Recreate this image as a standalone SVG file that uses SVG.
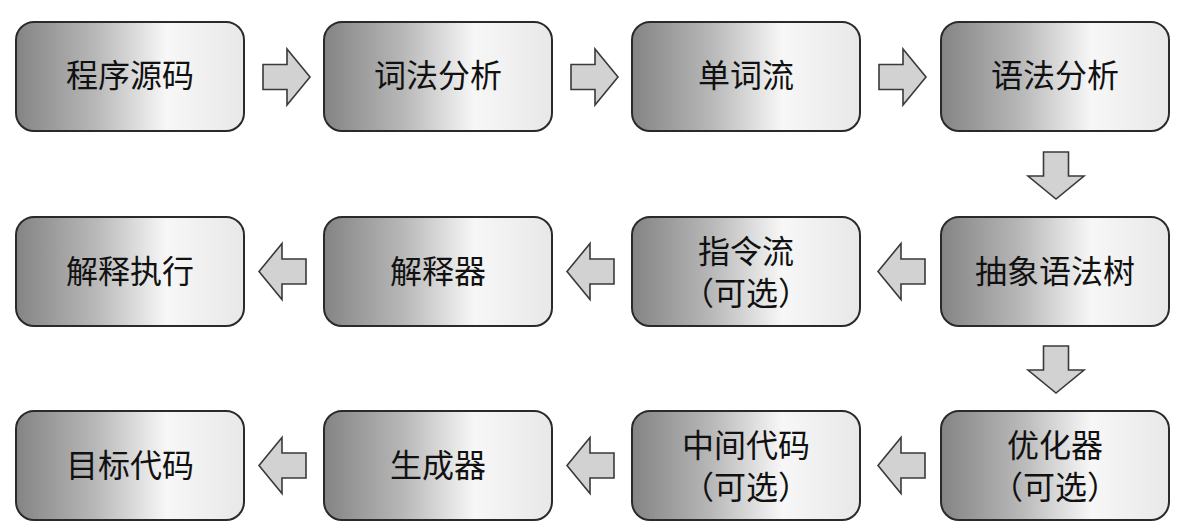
<svg xmlns="http://www.w3.org/2000/svg" width="1186" height="531" viewBox="0 0 1186 531">
<defs>
<linearGradient id="g" x1="0" y1="0" x2="1" y2="0">
<stop offset="0" stop-color="#848484"/>
<stop offset="0.35" stop-color="#b8b8b8"/>
<stop offset="0.66" stop-color="#f7f7f7"/>
<stop offset="1" stop-color="#e8e8e8"/>
</linearGradient>
<path id="ar" d="M0,-12.5 H24 V-28 L47,0 L24,28 V12.5 H0 Z"/>
</defs>
<style>
.n rect{fill:url(#g);stroke:#2a2a2a;stroke-width:2}
.n text{font-family:"Noto Sans CJK SC","Noto Sans",sans-serif;font-size:32px;fill:#111;text-anchor:middle}
.c use{fill:#d2d2d2;stroke:#3a3a3a;stroke-width:1.6}
</style>
<rect width="1186" height="531" fill="#fff"/>
<g id="n1" class="n"><rect x="16" y="22" width="228" height="109" rx="18"/><text x="130" y="87">程序源码</text></g>
<g id="n2" class="n"><rect x="324" y="22" width="228" height="109" rx="18"/><text x="438" y="87">词法分析</text></g>
<g id="n3" class="n"><rect x="632" y="22" width="228" height="109" rx="18"/><text x="746" y="87">单词流</text></g>
<g id="n4" class="n"><rect x="941" y="22" width="228" height="109" rx="18"/><text x="1055" y="87">语法分析</text></g>
<g id="n5" class="n"><rect x="941" y="217" width="228" height="109" rx="18"/><text x="1055" y="283">抽象语法树</text></g>
<g id="n6" class="n"><rect x="632" y="217" width="228" height="109" rx="18"/><text x="746" y="263">指令流</text><text x="746" y="305">（可选）</text></g>
<g id="n7" class="n"><rect x="324" y="217" width="228" height="109" rx="18"/><text x="438" y="283">解释器</text></g>
<g id="n8" class="n"><rect x="16" y="217" width="228" height="109" rx="18"/><text x="130" y="283">解释执行</text></g>
<g id="n9" class="n"><rect x="941" y="411" width="228" height="109" rx="18"/><text x="1055" y="457">优化器</text><text x="1055" y="499">（可选）</text></g>
<g id="n10" class="n"><rect x="632" y="411" width="228" height="109" rx="18"/><text x="746" y="457">中间代码</text><text x="746" y="499">（可选）</text></g>
<g id="n11" class="n"><rect x="324" y="411" width="228" height="109" rx="18"/><text x="438" y="477">生成器</text></g>
<g id="n12" class="n"><rect x="16" y="411" width="228" height="109" rx="18"/><text x="130" y="477">目标代码</text></g>
<g id="connectors" class="c">
<use href="#ar" transform="translate(263,77)"/>
<use href="#ar" transform="translate(571,77)"/>
<use href="#ar" transform="translate(879,77)"/>
<use href="#ar" transform="translate(1056,152) rotate(90)"/>
<use href="#ar" transform="translate(1056,346) rotate(90)"/>
<use href="#ar" transform="translate(925,271.5) rotate(180)"/>
<use href="#ar" transform="translate(614,271.5) rotate(180)"/>
<use href="#ar" transform="translate(306,271.5) rotate(180)"/>
<use href="#ar" transform="translate(925,465.5) rotate(180)"/>
<use href="#ar" transform="translate(614,465.5) rotate(180)"/>
<use href="#ar" transform="translate(306,465.5) rotate(180)"/>
</g>
</svg>
